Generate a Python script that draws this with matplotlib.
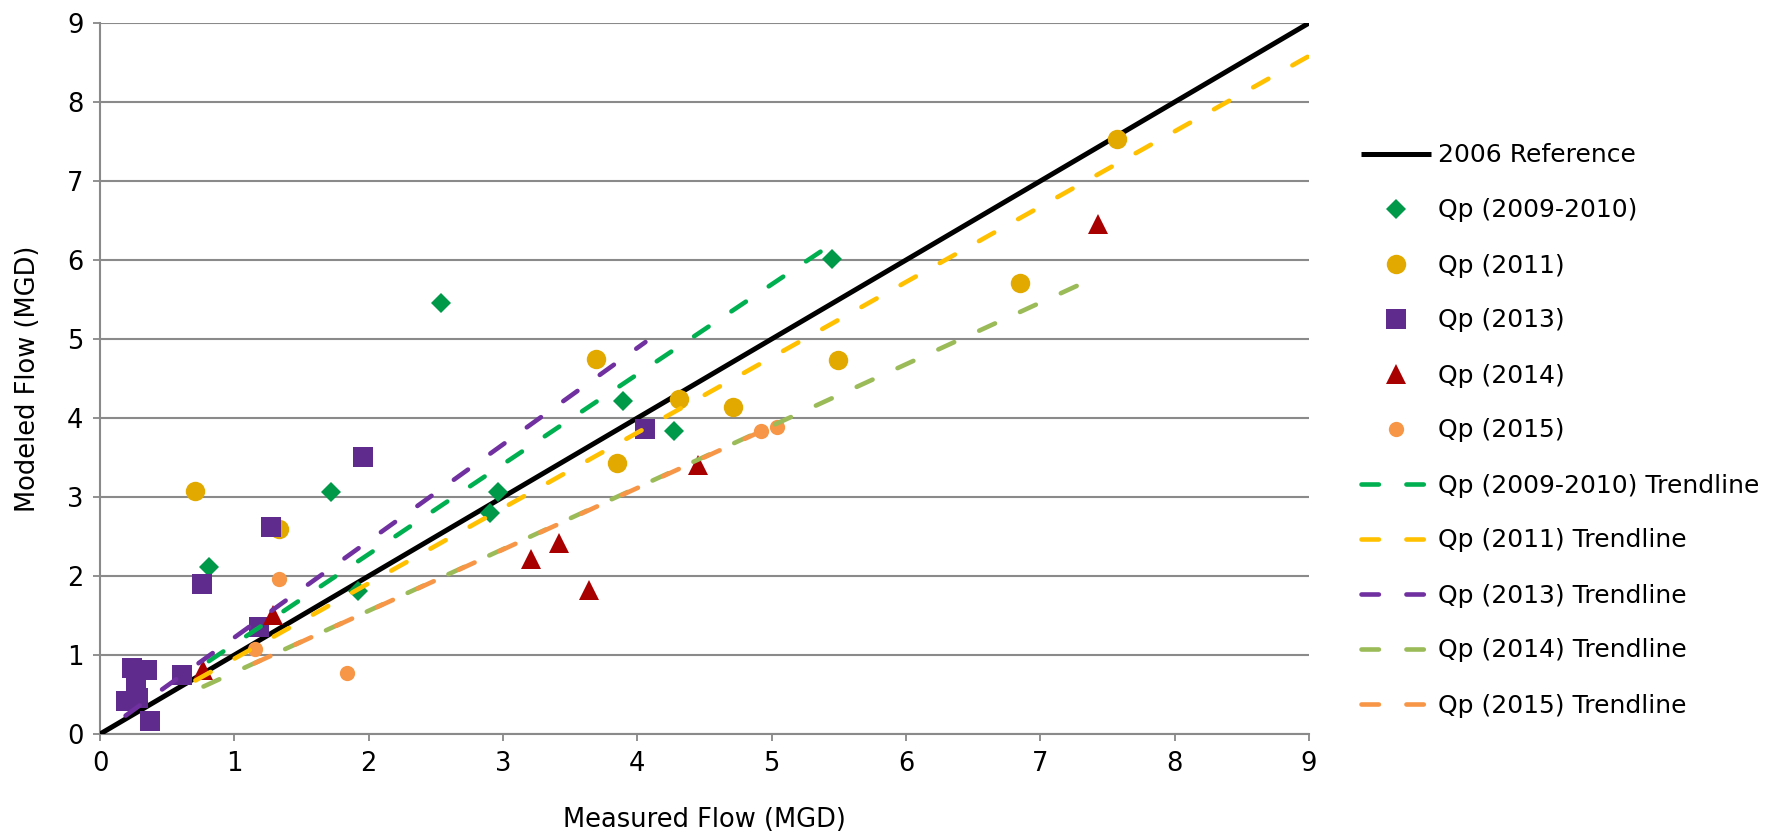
import numpy as np
import matplotlib
matplotlib.use("Agg")
import matplotlib.pyplot as plt

plt.rcParams['font.family'] = ['DejaVu Sans']

# ---- data ----
ref_x = [0, 9]
ref_y = [0, 9]

x_0910 = [0.81, 1.72, 1.92, 2.54, 2.90, 2.96, 3.89, 4.27, 5.45]
y_0910 = [2.11, 3.06, 1.81, 5.45, 2.80, 3.06, 4.21, 3.84, 6.01]

x_2011 = [0.71, 1.33, 3.69, 3.85, 4.31, 4.71, 5.49, 6.85, 7.57]
y_2011 = [3.08, 2.60, 4.75, 3.43, 4.24, 4.14, 4.74, 5.71, 7.53]

x_2013 = [0.19, 0.24, 0.27, 0.28, 0.35, 0.37, 0.61, 0.76, 1.18, 1.27, 1.96, 4.06]
y_2013 = [0.42, 0.84, 0.60, 0.45, 0.81, 0.16, 0.75, 1.90, 1.35, 2.62, 3.51, 3.86]

x_2014 = [0.77, 1.29, 3.21, 3.42, 3.64, 4.45, 7.43]
y_2014 = [0.81, 1.51, 2.22, 2.42, 1.82, 3.41, 6.46]

x_2015 = [1.15, 1.33, 1.84, 4.92, 5.04]
y_2015 = [1.08, 1.96, 0.77, 3.83, 3.88]

labels = ['Qp (2009-2010)', 'Qp (2011)', 'Qp (2013)', 'Qp (2014)', 'Qp (2015)']
ticks = [0, 1, 2, 3, 4, 5, 6, 7, 8, 9]

# ---- styles ----
series = [
    (x_0910, y_0910, 'D', 10.5, '#00994A', '#00B050', 0.0),
    (x_2011, y_2011, 'o', 14, '#E2AA00', '#FFC000', 1.5),
    (x_2013, y_2013, 's', 14, '#5F2C8E', '#7030A0', 0.0),
    (x_2014, y_2014, '^', 14, '#A80000', '#9BBB59', 0.0),
    (x_2015, y_2015, 'o', 11, '#F79646', '#F79646', 0.0),
]

FS = 18.5
LFS = 18

fig = plt.figure(figsize=(17.9, 8.4), dpi=100)
ax = fig.add_axes([0.0559, 0.1262, 0.6754, 0.8464])

ax.plot(ref_x, ref_y, color='black', lw=3.6, zorder=3, label='2006 Reference',
        solid_capstyle='butt')

for (xs, ys, m, ms, c, tc, fwd), lab in zip(series, labels):
    ax.plot(xs, ys, linestyle='none', marker=m, markersize=ms, color=c,
            markeredgewidth=0, zorder=4, label=lab)

for (xs, ys, m, ms, c, tc, fwd), lab in zip(series, labels):
    xa = np.array(xs); ya = np.array(ys)
    slope = np.sum(xa * ya) / np.sum(xa * xa)
    x0 = xa.min(); x1 = min(xa.max() + fwd, 9.0)
    ax.plot([x0, x1], [slope * x0, slope * x1], color=tc, lw=3.3,
            dashes=(3.8, 6.0), dash_capstyle='round', zorder=5,
            label=lab + ' Trendline')

ax.set_xlim(0, 9)
ax.set_ylim(0, 9)
ax.set_xticks(ticks)
ax.set_yticks(ticks)
ax.tick_params(axis='both', labelsize=FS, colors='#888888', labelcolor='black',
               length=5, width=1.3, direction='out', pad=7)
ax.grid(axis='y', color='#8A8A8A', lw=1.5, zorder=0)
ax.set_axisbelow(True)
for s in ['top', 'right']:
    ax.spines[s].set_visible(False)
for s in ['left', 'bottom']:
    ax.spines[s].set_color('#8A8A8A')
    ax.spines[s].set_linewidth(1.5)

ax.set_xlabel('Measured Flow (MGD)', fontsize=FS, labelpad=22)
ax.set_ylabel('Modeled Flow (MGD)', fontsize=FS, labelpad=19)

leg = ax.legend(loc='center left', bbox_to_anchor=(0.7603, 0.4875),
                bbox_transform=fig.transFigure, frameon=False, fontsize=LFS,
                handlelength=2.8, handletextpad=0.28, labelspacing=1.24,
                borderaxespad=0, borderpad=0)

fig.savefig('out.png', dpi=100)
